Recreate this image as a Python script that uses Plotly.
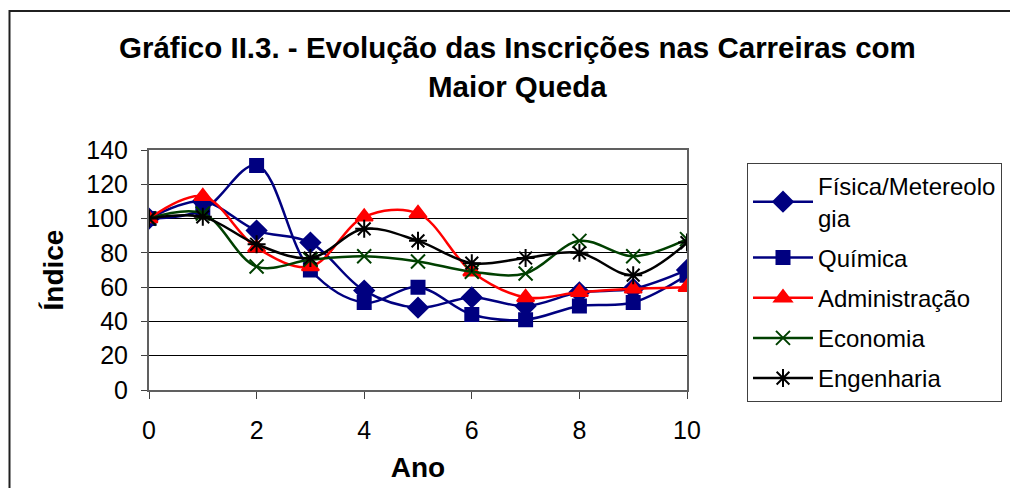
import plotly.graph_objects as go

anos = [0, 1, 2, 3, 4, 5, 6, 7, 8, 9, 10]
fisica = [100, 110, 93, 86, 58, 48, 54, 49, 57, 59, 70]
quimica = [100, 105, 131, 70, 51, 60, 44, 41, 49, 51, 67]
administracao = [100, 113, 83, 72, 101, 103, 69, 54, 57, 59, 60]
economia = [100, 103, 72, 76, 78, 75, 69, 68, 87, 78, 88]
engenharia = [100, 101, 85, 77, 94, 87, 74, 77, 80, 67, 86]

series = [
    ("Física/Metereolo<br>gia", fisica, "#000080", "diamond", 15),
    ("Química", quimica, "#000080", "square", 13),
    ("Administração", administracao, "#FF0000", "triangle-up", 15),
    ("Economia", economia, "#004000", "x-thin-open", 14),
    ("Engenharia", engenharia, "#000000", "asterisk-open", 15),
]

FONT = "Liberation Sans, Arial, sans-serif"

fig = go.Figure()
for i, (name, vals, color, sym, size) in enumerate(series):
    fig.add_trace(go.Scatter(
        x=anos, y=vals, name=name, mode="lines+markers",
        line=dict(color=color, width=2.5, shape="spline", smoothing=1.0),
        marker=dict(symbol=sym, size=size, color=color,
                    line=dict(color=color, width=2)),
        legendgroup=str(i),
    ))

# page body has an 8px margin; reference pixel positions are screen positions
OFF = 8
W, H = 1018, 488
L, R, T, B = 149 - OFF, 687 - OFF, 150 - OFF, 390 - OFF


def px_x(p):
    return (p - OFF - L) / (R - L)


def px_y(p):
    return (B - (p - OFF)) / (B - T)


fig.update_layout(
    width=W, height=H,
    margin=dict(l=L, r=W - R, t=T, b=H - B, autoexpand=False),
    paper_bgcolor="white", plot_bgcolor="white",
    font=dict(family=FONT, size=25, color="black"),
    showlegend=True,
    legend=dict(
        x=px_x(747), y=px_y(163), xanchor="left", yanchor="top",
        bordercolor="#404040", borderwidth=1, bgcolor="white",
        font=dict(family=FONT, size=24, color="black"),
        tracegroupgap=6, itemwidth=60,
    ),
    xaxis=dict(
        range=[0, 10], dtick=2, tick0=0, showgrid=False, zeroline=False,
        showline=True, linecolor="#606060", linewidth=2, mirror=True,
        ticks="outside", ticklen=7, tickcolor="#404040", tickwidth=1,
        tickfont=dict(family=FONT, size=25),
        ticklabelstandoff=10,
        title=dict(text="<b>Ano</b>", font=dict(family=FONT, size=28), standoff=14),
    ),
    yaxis=dict(
        range=[0, 140], dtick=20, tick0=0, showgrid=True, gridcolor="black",
        gridwidth=1, zeroline=False,
        showline=True, linecolor="#606060", linewidth=2, mirror=True,
        ticks="outside", ticklen=6, tickcolor="#404040", tickwidth=1,
        tickfont=dict(family=FONT, size=25),
        ticklabelstandoff=8,
        title=dict(text="<b>Índice</b>", font=dict(family=FONT, size=28), standoff=14),
    ),
    annotations=[
        dict(text="<b>Gráfico II.3. - Evolução das Inscrições nas Carreiras com</b>",
             xref="paper", yref="paper", x=px_x(517), y=px_y(48),
             xanchor="center", yanchor="middle", showarrow=False,
             font=dict(family=FONT, size=29.5, color="black")),
        dict(text="<b>Maior Queda</b>",
             xref="paper", yref="paper", x=px_x(517), y=px_y(86),
             xanchor="center", yanchor="middle", showarrow=False,
             font=dict(family=FONT, size=29.5, color="black")),
    ],
    shapes=[
        dict(type="rect", xref="paper", yref="paper",
             x0=px_x(9.5), x1=px_x(1060), y0=px_y(540), y1=px_y(11),
             line=dict(color="#202020", width=2), fillcolor="rgba(0,0,0,0)",
             layer="below"),
    ],
)

fig.write_html("out.html")
